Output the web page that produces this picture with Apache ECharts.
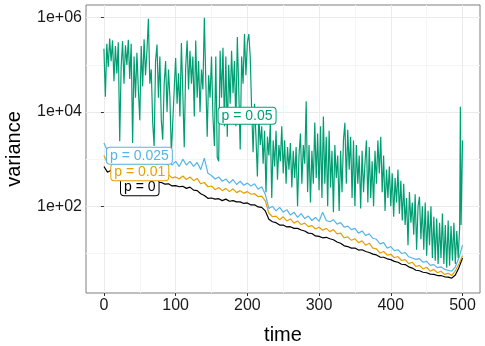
<!DOCTYPE html>
<html>
<head>
<meta charset="utf-8">
<script src="https://cdn.jsdelivr.net/npm/echarts@6/dist/echarts.min.js"></script>
<style>
  html, body { margin: 0; padding: 0; background: #fff; }
  #chart { width: 485px; height: 346px; }
</style>
</head>
<body>
<div id="chart"></div>
<script>
// time steps of the sampled series
var greenStep = 2;
var lowStep = 5;

// p = 0.05  (t = 0, 2, ..., 496)
var greenValues = [
  2.2e5, 2.1e4, 2.8e5, 9e4, 3.6e5, 1.2e5, 3.3e5, 4.5e4, 2.5e5, 6.6e4,
  3e5, 2.4e3, 9e4, 3.2e5, 4e4, 2.6e5, 1e5, 3.4e5, 5e4, 2.8e5,
  2.2e3, 1.5e5, 2e4, 1.8e5, 3e4, 6.7e3, 2.5e5, 3.5e4, 3.5e5, 6e4,
  2e5, 9.5e5, 4e4, 8e4, 5.9e3, 1.9e3, 1.2e5, 2.7e5, 2e4, 1.5e5,
  6.7e3, 2.6e3, 4e4, 1.2e5, 1e4, 8e4, 2e4, 1.3e3, 1.2e3, 3e4,
  1.4e5, 1.5e4, 6.6e4, 8e3, 2.9e5, 2.5e4, 1.8e3, 9e4, 3.3e5, 3e4,
  2e5, 4e4, 1.5e5, 8e3, 3.3e5, 2e4, 1.2e5, 1e4, 8e4, 3e4,
  1e6, 5e4, 3e3, 6e4, 2e4, 1.5e5, 8e3, 1.9e3, 1.5e5, 1.1e3,
  9e2, 2e5, 2e4, 2.3e5, 5e3, 1.5e5, 3e3, 1e5, 1.5e4, 2e5,
  2.5e4, 1.2e5, 5e3, 3.9e5, 3e4, 1.6e3, 1.5e5, 4e4, 4.5e5, 6e4,
  3e5, 4.5e5, 1.5e5, 1.1e4, 1.4e3, 1.5e4, 3e3, 430, 8e3, 2e3,
  5e3, 800, 4e3, 200, 3e3, 1.2e3, 5.9e3, 150, 2.5e3, 700,
  4e3, 365, 2e3, 900, 5e3, 500, 2.5e3, 300, 1.8e3, 600,
  2.2e3, 250, 1.5e3, 400, 1.8e3, 100, 1.2e3, 3.5e3, 300, 2e3,
  800, 1.7e4, 200, 2e3, 120, 1.5e3, 300, 6e3, 400, 3.5e3,
  220, 5e3, 150, 8e3, 300, 3e3, 100, 4e3, 250, 1.5e3,
  75, 2e3, 400, 1.2e3, 80, 1.5e3, 200, 2.5e3, 5.9e3, 300,
  4.2e3, 600, 3e3, 150, 2.5e3, 100, 2e3, 300, 1.2e3, 90,
  1.5e3, 200, 800, 2.5e3, 120, 1.8e3, 150, 900, 100, 1.5e3,
  300, 2.5e3, 500, 3e3, 200, 1.2e3, 80, 600, 150, 700,
  100, 500, 60, 400, 120, 600, 70, 350, 50, 300,
  40, 150, 15, 200, 45, 120, 25, 180, 12, 100,
  160, 20, 100, 12, 120, 9, 80, 15, 100, 8,
  60, 7, 55, 6, 45, 8, 70, 6, 40, 5,
  50, 5.5, 38, 7, 45, 6, 30, 8, 35
];
// last few points of p = 0.05
var greenTailTime = [497, 498, 500];
var greenTailValues = [1.3e4, 40, 2.5e3];

// p = 0.025  (t = 0, 5, ..., 500)
var blueValues = [
  2200, 1500, 1600, 1300, 1400, 1200, 1300, 1100, 1250, 1000,
  1100, 950, 1050, 900, 1000, 850, 950, 800, 1000, 750,
  900, 700, 1000, 750, 900, 700, 850, 600, 1050, 500,
  450, 380, 420, 340, 380, 310, 370, 290, 340, 280,
  310, 270, 300, 230, 260, 180, 90, 100, 80, 95,
  75, 85, 65, 75, 58, 70, 55, 62, 50, 58,
  48, 75, 50, 47, 52, 42, 45, 36, 38, 32,
  34, 27, 30, 24, 26, 21, 20, 16, 17, 13,
  14, 11.5, 12, 10, 10.5, 8.5, 8, 7.5, 7.8, 6.5,
  6.8, 5.6, 5.8, 5, 5.2, 4.6, 4.4, 4.2, 5.2, 8,
  15
];

// p = 0.01
var orangeValues = [
  1200, 820, 920, 760, 840, 700, 780, 660, 720, 620,
  680, 580, 630, 540, 600, 500, 520, 440, 470, 400,
  420, 380, 440, 370, 420, 350, 390, 300, 320, 260,
  270, 225, 250, 215, 240, 205, 235, 195, 215, 190,
  205, 180, 185, 160, 165, 130, 72, 60, 62, 52,
  60, 49, 54, 44, 49, 41, 44, 37, 39, 33,
  36, 31, 34, 29, 32, 26, 27, 21.5, 22.5, 19,
  20.5, 17, 18.5, 15, 16.5, 13, 12.5, 10.2, 11, 9.2,
  9.6, 8.1, 8.6, 7.1, 7.4, 6.1, 6.5, 5.3, 5.6, 4.7,
  5.1, 4.2, 4.6, 3.9, 4.2, 3.6, 3.8, 3.4, 4.3, 6,
  9
];

// p = 0
var blackValues = [
  700, 530, 580, 500, 510, 480, 490, 440, 460, 420,
  430, 390, 400, 360, 370, 320, 320, 295, 300, 270,
  275, 260, 265, 240, 255, 220, 215, 185, 170, 148,
  150, 142, 145, 132, 142, 128, 132, 124, 124, 115,
  118, 107, 108, 97, 95, 80, 53, 47, 45, 40,
  40, 36.5, 37, 34, 34, 31.5, 30, 27, 26.5, 23.5,
  23, 21.5, 22, 20.5, 19.5, 17.5, 16.5, 14.5, 14, 13,
  13, 11.8, 12, 11, 10.5, 9.7, 9.3, 8.4, 8.3, 7.7,
  7.4, 6.8, 6.5, 5.9, 5.8, 5.2, 4.9, 4.4, 4.3, 4.0,
  3.9, 3.65, 3.6, 3.4, 3.4, 3.2, 3.15, 3.0, 3.5, 5,
  8
];

var seriesNames = ['p = 0', 'p = 0.01', 'p = 0.025', 'p = 0.05'];
var seriesColors = ['#000000', '#E69F00', '#56B4E9', '#009E73'];
// label anchor [time, variance]
var labelAnchors = [[50, 255], [50, 527], [49.5, 1175], [199.6, 8300]];

var xMajor = [0, 100, 200, 300, 400, 500];
var xMinor = [50, 150, 250, 350, 450];
var yMajor = [1e2, 1e4, 1e6];
var yMinor = [1e1, 1e3, 1e5];

function pairs(values, step) {
  return values.map(function (v, i) { return [i * step, v]; });
}

var greenData = pairs(greenValues, greenStep).concat(
  greenTailTime.map(function (t, i) { return [t, greenTailValues[i]]; })
);
var allData = [
  pairs(blackValues, lowStep),
  pairs(orangeValues, lowStep),
  pairs(blueValues, lowStep),
  greenData
];

function yLabel(v) {
  var e = Math.round(Math.log10(v));
  return '1e+' + (e < 10 ? '0' + e : e);
}

var chart = echarts.init(document.getElementById('chart'));

var series = allData.map(function (d, i) {
  return {
    name: seriesNames[i],
    type: 'line',
    data: d,
    showSymbol: false,
    symbol: 'none',
    animation: false,
    lineStyle: { color: seriesColors[i], width: 1.2 },
    z: 2 + i,
    markPoint: {
      symbol: 'rect',
      symbolSize: 1,
      itemStyle: { color: 'rgba(0,0,0,0)' },
      z: 20,
      animation: false,
      label: {
        show: true,
        position: 'inside',
        formatter: seriesNames[i],
        color: seriesColors[i],
        fontFamily: 'Liberation Sans',
        fontSize: 14,
        lineHeight: 14,
        backgroundColor: '#ffffff',
        borderColor: seriesColors[i],
        borderWidth: 1,
        borderRadius: 3,
        padding: [1, 3, 1, 3]
      },
      data: [{ coord: labelAnchors[i] }]
    }
  };
});

var option = {
  animation: false,
  backgroundColor: '#ffffff',
  textStyle: { fontFamily: 'Liberation Sans' },
  grid: {
    left: 86, right: 5, top: 5, bottom: 53,
    outerBoundsMode: 'none',
    containLabel: false,
    show: true, borderColor: '#7f7f7f', borderWidth: 1, backgroundColor: '#ffffff'
  },
  xAxis: [{
    type: 'value', min: -25, max: 524.4,
    name: 'time', nameLocation: 'middle', nameGap: 32,
    nameTextStyle: { fontSize: 20, color: '#000' },
    axisLine: { show: false },
    axisTick: { show: true, length: 3, lineStyle: { color: '#333' }, customValues: xMajor },
    axisLabel: { customValues: xMajor, fontSize: 16, color: '#1a1a1a', margin: 5 },
    splitLine: { show: true, lineStyle: { color: '#ebebeb', width: 1 } }
  }, {
    type: 'value', min: -25, max: 524.4, position: 'bottom',
    axisLine: { show: false },
    axisTick: { show: false, customValues: xMinor },
    axisLabel: { show: false },
    splitLine: { show: true, lineStyle: { color: '#f5f5f5', width: 1 } }
  }],
  yAxis: [{
    type: 'log', min: 1.45, max: 1.86e6,
    name: 'variance', nameLocation: 'middle', nameGap: 62,
    nameTextStyle: { fontSize: 20, color: '#000' },
    axisLine: { show: false },
    axisTick: { show: true, length: 3, lineStyle: { color: '#333' }, customValues: yMajor },
    axisLabel: { customValues: yMajor, formatter: yLabel, fontSize: 16, color: '#1a1a1a', margin: 4 },
    splitLine: { show: true, lineStyle: { color: '#ebebeb', width: 1 } }
  }, {
    type: 'log', min: 1.45, max: 1.86e6, position: 'left',
    axisLine: { show: false },
    axisTick: { show: false, customValues: yMinor },
    axisLabel: { show: false },
    splitLine: { show: true, lineStyle: { color: '#f5f5f5', width: 1 } }
  }],
  series: series
};

chart.setOption(option);
</script>
</body>
</html>
